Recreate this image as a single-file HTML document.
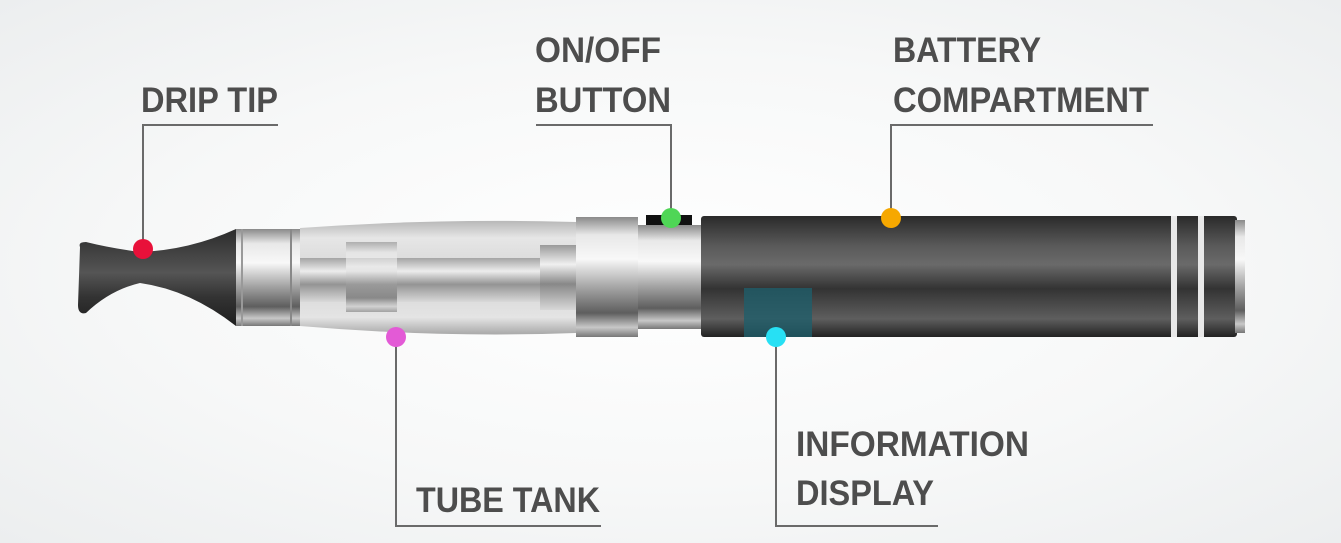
<!DOCTYPE html>
<html><head><meta charset="utf-8"><style>
html,body{margin:0;padding:0;}
body{width:1341px;height:543px;overflow:hidden;background:radial-gradient(ellipse at 50% 50%,#ffffff 0%,#f7f8f8 55%,#eceeef 100%);}
svg{display:block}
text{font-family:"Liberation Sans",sans-serif;font-weight:bold;fill:#4d4d4d;font-size:35px;}
</style></head><body>
<svg width="1341" height="543" viewBox="0 0 1341 543" xmlns="http://www.w3.org/2000/svg">
<defs>
<linearGradient id="blk" x1="0" y1="0" x2="0" y2="1">
<stop offset="0" stop-color="#2a2a2a"/><stop offset="0.25" stop-color="#5a5a5a"/><stop offset="0.4" stop-color="#6a6a6a"/><stop offset="0.6" stop-color="#333"/><stop offset="0.85" stop-color="#5e5e5e"/><stop offset="1" stop-color="#222"/>
</linearGradient>
<linearGradient id="tip" x1="0" y1="0" x2="0" y2="1">
<stop offset="0" stop-color="#2b2b2b"/><stop offset="0.45" stop-color="#555"/><stop offset="0.7" stop-color="#333"/><stop offset="1" stop-color="#1e1e1e"/>
</linearGradient>
<linearGradient id="met" x1="0" y1="0" x2="0" y2="1">
<stop offset="0" stop-color="#8a8a8a"/><stop offset="0.15" stop-color="#e8e8e8"/><stop offset="0.35" stop-color="#f8f8f8"/><stop offset="0.6" stop-color="#a0a0a0"/><stop offset="0.8" stop-color="#5e5e5e"/><stop offset="0.92" stop-color="#c8c8c8"/><stop offset="1" stop-color="#777"/>
</linearGradient>
<linearGradient id="tank" x1="0" y1="0" x2="0" y2="1">
<stop offset="0" stop-color="#b8b8b8"/><stop offset="0.15" stop-color="#e6e6e6"/><stop offset="0.5" stop-color="#d4d4d4"/><stop offset="0.85" stop-color="#e4e4e4"/><stop offset="1" stop-color="#a8a8a8"/>
</linearGradient>
<linearGradient id="tube" x1="0" y1="0" x2="0" y2="1">
<stop offset="0" stop-color="#9a9a9a"/><stop offset="0.3" stop-color="#f0f0f0"/><stop offset="0.6" stop-color="#888"/><stop offset="1" stop-color="#d8d8d8"/>
</linearGradient>
</defs>

<!-- drip tip -->
<path d="M80,247 Q78,242 86,242 Q110,248 140,252 Q190,250 236,229 L236,326 Q190,290 140,283 Q110,290 86,313 Q78,315 78,305 Z" fill="url(#tip)"/>
<!-- metal -->
<rect x="236" y="229" width="64" height="97" fill="url(#met)"/>
<rect x="241" y="229" width="2" height="97" fill="#999"/>
<rect x="290" y="229" width="2" height="97" fill="#888"/>
<!-- tank -->
<path d="M300,228 Q440,218 576,222 L576,333 Q440,338 300,326 Z" fill="url(#tank)"/>
<rect x="300" y="258" width="245" height="44" fill="url(#tube)" opacity="0.85"/>
<rect x="346" y="242" width="51" height="70" fill="url(#met)" opacity="0.6"/>
<rect x="540" y="245" width="36" height="65" fill="url(#tube)"/>
<!-- collar -->
<rect x="576" y="217" width="62" height="120" fill="url(#met)"/>
<rect x="638" y="225" width="64" height="104" fill="url(#met)"/>
<rect x="646" y="215" width="46" height="10" fill="#111"/>
<!-- battery -->
<rect x="701" y="216" width="536" height="121" rx="3" fill="url(#blk)"/>
<rect x="1171" y="216" width="6" height="121" fill="#e8e8e8"/>
<rect x="1198" y="216" width="6" height="121" fill="#e8e8e8"/>
<rect x="1235" y="220" width="10" height="113" fill="url(#met)"/>
<rect x="744" y="288" width="68" height="49" fill="#1f5e6a" opacity="0.8"/>

<!-- connectors -->
<g stroke="#6a6a6a" stroke-width="2" fill="none">
<polyline points="143,249 143,125 278,125"/>
<polyline points="671,218 671,125 536,125"/>
<polyline points="891,218 891,125 1153,125"/>
<polyline points="396,337 396,526 601,526"/>
<polyline points="776,337 776,526 938,526"/>
</g>
<circle cx="143" cy="249" r="10" fill="#e8113a"/>
<circle cx="671" cy="218" r="10" fill="#4fd656"/>
<circle cx="891" cy="218" r="10" fill="#f6a800"/>
<circle cx="396" cy="337" r="10" fill="#e35ad6"/>
<circle cx="776" cy="337" r="10" fill="#27e0f4"/>

<!-- labels -->
<text x="141" y="112" textLength="137" lengthAdjust="spacingAndGlyphs">DRIP TIP</text>
<text x="535" y="62" textLength="126" lengthAdjust="spacingAndGlyphs">ON/OFF</text>
<text x="535" y="112" textLength="136" lengthAdjust="spacingAndGlyphs">BUTTON</text>
<text x="893" y="62" textLength="148" lengthAdjust="spacingAndGlyphs">BATTERY</text>
<text x="893" y="112" textLength="256" lengthAdjust="spacingAndGlyphs">COMPARTMENT</text>
<text x="416" y="512" textLength="184" lengthAdjust="spacingAndGlyphs">TUBE TANK</text>
<text x="796" y="456" textLength="233" lengthAdjust="spacingAndGlyphs">INFORMATION</text>
<text x="796" y="505" textLength="138" lengthAdjust="spacingAndGlyphs">DISPLAY</text>
</svg>
</body></html>
